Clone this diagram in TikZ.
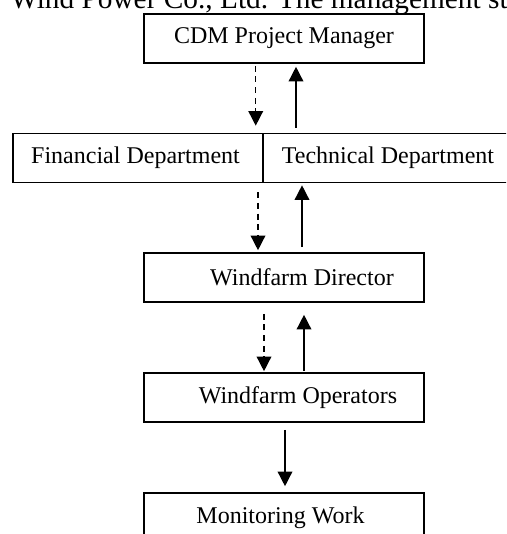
\documentclass[tikz,border=0pt]{standalone}
\usepackage{fontspec}
\setmainfont{Liberation Serif}
\usetikzlibrary{arrows.meta}

\def\post#1#2#3{\node[post] (#1) at (#2) {#3};}

\begin{document}
\begin{tikzpicture}[x=0.75pt, y=-0.75pt,
    post/.style={draw=black, line width=1.2pt, fill=white,
        minimum height=36.75pt,
        minimum width=210pt,
        inner sep=0pt,
        font=\fontsize{18}{21}\selectfont},
    dept/.style={post, minimum width=187.5pt},
    order/.style={line width=1.1pt, dash pattern=on 4.5pt off 3.5pt,
        -{Triangle[length=11pt,width=11pt]}},
    report/.style={line width=1.1pt,
        -{Triangle[length=11pt,width=11pt]}}]
    \useasboundingbox (0,0) rectangle (506,534);
    \clip (0,0) rectangle (506,534);
    \node[anchor=base west, inner sep=0pt, font=\fontsize{22}{26}\selectfont]
        (head) at (10,9) {Wind Power Co., Ltd. The management structure};
    \post{mgr}{284,38.5}{CDM Project Manager}
    \node[dept] (fin) at (138,158) {\hspace*{-3.75pt}Financial Department};
    \node[dept] (tech) at (388,158) {Technical Department};
    \post{dir}{284,277.5}{\hspace*{27pt}Windfarm Director}
    \post{ops}{284,397.5}{\hspace*{21pt}Windfarm Operators}
    \post{mon}{284,517.5}{\hspace*{-5.25pt}Monitoring Work}
    % manager <-> departments
    \draw[order, shorten <=1.5pt, shorten >=5.25pt]
        ([xshift=-21.2pt]mgr.south) -- ([xshift=-21.2pt]mgr.south |- fin.north);
    \draw[report, shorten <=3.75pt, shorten >=2.25pt]
        ([xshift=9pt]mgr.south |- tech.north) -- ([xshift=9pt]mgr.south);
    % departments <-> director
    \draw[order, shorten <=6.75pt, shorten >=1.5pt]
        ([xshift=-19.5pt]dir.north |- fin.south) -- ([xshift=-19.5pt]dir.north);
    \draw[report, shorten <=3.75pt, shorten >=1.5pt]
        ([xshift=13.5pt]dir.north) -- ([xshift=13.5pt]dir.north |- tech.south);
    % director <-> operators
    \draw[order, shorten <=8.25pt, shorten >=0.75pt]
        ([xshift=-15pt]dir.south) -- ([xshift=-15pt]ops.north);
    \draw[report, shorten <=0.75pt, shorten >=9pt]
        ([xshift=15pt]ops.north) -- ([xshift=15pt]dir.south);
    % operators -> monitoring
    \draw[report, shorten <=5.25pt, shorten >=4.5pt]
        ([xshift=0.75pt]ops.south) -- ([xshift=0.75pt]mon.north);
\end{tikzpicture}
\end{document}
